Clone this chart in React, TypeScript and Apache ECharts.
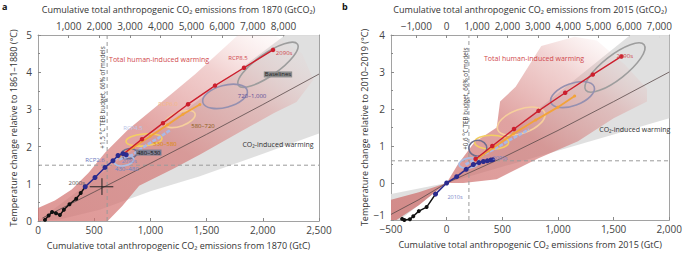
import React, { useEffect, useRef } from "react";
import * as echarts from "echarts";

const CO2_PER_C = 3.664;
const FONT = "'Open Sans', 'Noto Sans', sans-serif";

// ---------------- Panel a (relative to 1861–1880, emissions from 1870) ----------------
const aTopTicksGtCO2 = [1000, 2000, 3000, 4000, 5000, 6000, 7000, 8000];
const aGrayBand = [[0, 0], [2200, 5], [2500, 5], [2500, 2.35], [1440, 1.2], [1000, 0.8], [550, 0.3], [200, 0.05]];
const aPinkBand = [
  [0, 0], [0, 0.35], [150, 0.55], [300, 0.85], [450, 1.3], [600, 1.85], [800, 2.45], [1000, 2.95],
  [1200, 3.45], [1400, 3.95], [1600, 4.5], [1780, 5], [2100, 5], [2350, 4.5], [2450, 3.8],
  [2300, 3.2], [2100, 2.9], [1800, 2.4], [1450, 1.8], [1200, 1.4], [900, 0.95], [750, 0.4], [620, 0],
];
const aThinCO2 = [[40, 0.08], [500, 0.78], [1000, 1.55], [1500, 2.33], [2000, 3.13], [2500, 3.95]];
const aHistorical = [[62, 0.03], [95, 0.15], [125, 0.24], [160, 0.21], [195, 0.16], [230, 0.3], [280, 0.45], [340, 0.6], [380, 0.75], [420, 0.92]];
const aRcp26 = [[420, 0.92], [507, 1.17], [596, 1.44], [667, 1.62], [712, 1.76], [756, 1.81], [785, 1.78]];
const aRcp45 = [[720, 1.65], [840, 1.78], [970, 2.05], [1070, 2.23], [1180, 2.45]];
const aRcp60 = [[720, 1.72], [850, 1.98], [1000, 2.28], [1150, 2.58], [1290, 2.87], [1440, 3.13]];
const aRcp85 = [[760, 1.8], [925, 2.2], [1112, 2.63], [1335, 3.14], [1575, 3.64], [1833, 4.12], [2091, 4.6]];
const aBudgetX = 615;
const aBudgetT = 1.5;
const aCrossCenter = [569, 0.92];
const aCrossX = [460, 670];
const aCrossY = [0.7, 1.15];
const aEllipseCenters = [[2046, 4.2], [1664, 3.35], [1263, 2.74], [943, 2.18], [810, 1.81], [765, 1.62]];

// ---------------- Panel b (relative to 2010–2019, emissions from 2015) ----------------
const bTopTicksGtCO2 = [-1000, 0, 1000, 2000, 3000, 4000, 5000, 6000, 7000];
const bGrayBand = [
  [-500, -0.3], [0, 0], [1650, 4], [2000, 4], [2000, 1.75], [0, 0], [-420, -1], [-500, -1],
];
const bPinkBand = [
  [-500, -0.45], [-250, -0.25], [0, 0], [100, 0.5], [250, 1.1], [450, 1.5], [480, 2.2], [620, 2.6],
  [850, 3.7], [1150, 3.95], [1350, 3.85], [1600, 3.2], [1800, 2.55], [1800, 2.2], [1500, 1.75],
  [1180, 1.13], [825, 0.67], [450, 0.1], [150, 0], [0, 0], [-250, -0.6], [-450, -1], [-500, -1],
];
const bThinCO2 = [[-500, -0.85], [-250, -0.45], [0, 0], [500, 0.68], [1000, 1.42], [1500, 2.2], [2000, 3.0]];
const bHistorical = [[-400, -0.97], [-380, -1.0], [-330, -0.98], [-300, -0.9], [-250, -0.76], [-180, -0.65], [-100, -0.3]];
const bRcp26 = [[-100, -0.3], [0, 0], [90, 0.17], [175, 0.37], [240, 0.5], [290, 0.55], [330, 0.58], [365, 0.6], [395, 0.62], [415, 0.63]];
const bRcp45 = [[170, 0.5], [300, 0.72], [430, 0.92], [560, 1.15], [700, 1.38], [740, 1.45]];
const bRcp60 = [[260, 0.62], [420, 0.95], [600, 1.33], [800, 1.7], [1000, 2.05], [1150, 2.35]];
const bRcp85 = [[260, 0.65], [410, 1.0], [605, 1.46], [825, 1.95], [1065, 2.44], [1313, 2.93], [1570, 3.42]];
const bBudgetX = 200;
const bBudgetT = 0.6;
const bEllipseCenters = [[1512, 3.12], [1131, 2.39], [670, 1.67], [404, 1.1], [280, 0.94], [200, 0.54]];

// ellipse look (pixel radii, tilt in degrees)
const aEllipseLook = [
  { rx: 36, ry: 11, angle: 35, color: "#9d9d9d" },
  { rx: 23, ry: 11, angle: 15, color: "#9590b0" },
  { rx: 16, ry: 7, angle: 20, color: "#f6cf9c" },
  { rx: 18, ry: 6, angle: 5, color: "#f4cf62" },
  { rx: 8, ry: 5, angle: 10, color: "#6e6e8e" },
  { rx: 10, ry: 5, angle: 10, color: "#aabfe6" },
];
const bEllipseLook = [
  { rx: 37, ry: 12, angle: 38, color: "#9d9d9d" },
  { rx: 23, ry: 11, angle: 20, color: "#9590b0" },
  { rx: 25, ry: 12, angle: 20, color: "#f6cf9c" },
  { rx: 17, ry: 7, angle: 0, color: "#f4cf62" },
  { rx: 9, ry: 8, angle: 0, color: "#6e6e8e" },
  { rx: 10, ry: 5, angle: 10, color: "#aabfe6" },
];

// annotations: [x, y, text] in data units (text centre)
const aLabels = [
  [1077, 4.34, "Total human-induced warming"],
  [1779, 4.39, "RCP8.5"],
  [2190, 4.52, "2090s"],
  [2135, 3.94, "Baselines"],
  [1904, 3.35, "720–1,000"],
  [1157, 3.14, "RCP6.0"],
  [1468, 2.55, "580–720"],
  [1130, 2.07, "530–580"],
  [985, 1.84, "480–530"],
  [812, 1.6, "2090s "],
  [790, 1.4, "430–480"],
  [507, 1.65, "RCP2.6"],
  [845, 2.5, "RCP4.5"],
  [345, 1.01, "2000s"],
  [2135, 2.05, "CO₂-induced warming"],
];
const bLabels = [
  [785, 3.36, "Total human-induced warming"],
  [1600, 3.44, "2090s"],
  [1690, 1.45, "CO₂-induced warming"],
  [480, 0.67, "2090s "],
  [75, -0.38, "2010s"],
];
const labelLook: Record<string, any> = {
  "Total human-induced warming": { fill: "#d0474c", fontSize: 7 },
  "RCP8.5": { fill: "#d0474c", fontSize: 6 },
  "2090s": { fill: "#d0474c", fontSize: 6 },
  "2090s ": { fill: "#7a86c8", fontSize: 5.5 },
  "Baselines": { fill: "#222", fontSize: 6, backgroundColor: "#8d8d8d", padding: [0, 1] },
  "720–1,000": { fill: "#5b4b98", fontSize: 6 },
  "RCP6.0": { fill: "#f4b985", fontSize: 6 },
  "580–720": { fill: "#8a5a12", fontSize: 6 },
  "530–580": { fill: "#e08a00", fontSize: 6 },
  "480–530": { fill: "#111", fontSize: 6, backgroundColor: "#7e7e92", padding: [0, 1] },
  "430–480": { fill: "#5f86cc", fontSize: 6 },
  "RCP2.6": { fill: "#6a78c0", fontSize: 6 },
  "RCP4.5": { fill: "#b9c4e8", fontSize: 6 },
  "2000s": { fill: "#555", fontSize: 6 },
  "2010s": { fill: "#7a86c8", fontSize: 5.5 },
  "CO₂-induced warming": { fill: "#333", fontSize: 7 },
};

const fmt = (v: number) => {
  const r = Math.round(v);
  const s = Math.abs(r).toLocaleString("en-US");
  return r < 0 ? "−" + s : s;
};

const AX = "#8a8a8a";
const LBL = { color: "#444", fontSize: 10, fontFamily: FONT };
const NAME = { color: "#333", fontSize: 9, fontFamily: FONT };

function bottomAxis(grid: number, min: number, max: number, name: string) {
  return {
    type: "value", gridIndex: grid, position: "bottom", min, max, interval: 500,
    name, nameLocation: "middle", nameGap: 20, nameTextStyle: NAME,
    axisLine: { show: true, onZero: false, lineStyle: { color: AX, width: 0.8 } },
    axisTick: { show: true, inside: true, length: 3, lineStyle: { color: AX } },
    axisLabel: { ...LBL, margin: 4, formatter: fmt },
    splitLine: { show: false },
  };
}
function topAxis(grid: number, min: number, max: number, ticksCO2: number[], name: string) {
  const vals = ticksCO2.map((t) => t / CO2_PER_C);
  return {
    type: "value", gridIndex: grid, position: "top", min, max,
    name, nameLocation: "middle", nameGap: 21, nameTextStyle: NAME,
    axisLine: { show: true, onZero: false, lineStyle: { color: AX, width: 0.8 } },
    axisTick: { show: true, inside: true, length: 3, customValues: vals, lineStyle: { color: AX } },
    axisLabel: { ...LBL, margin: 4, customValues: vals, formatter: (v: number) => fmt(Math.round((v * CO2_PER_C) / 100) * 100) },
    splitLine: { show: false },
  };
}
function leftAxis(grid: number, min: number, max: number, name: string, gap: number, liftMin: boolean) {
  return {
    type: "value", gridIndex: grid, position: "left", min, max, interval: 1,
    name, nameLocation: "middle", nameGap: gap, nameTextStyle: NAME,
    axisLine: { show: true, onZero: false, lineStyle: { color: AX, width: 0.8 } },
    axisTick: { show: true, inside: true, length: 3, lineStyle: { color: AX } },
    minorTick: { show: true, splitNumber: 2, length: 2, lineStyle: { color: AX } },
    axisLabel: { ...LBL, margin: 6, formatter: fmt, ...(liftMin ? { verticalAlignMinLabel: "bottom" } : {}) },
    splitLine: { show: false },
  };
}
function rightAxis(grid: number, min: number, max: number) {
  return {
    type: "value", gridIndex: grid, position: "right", min, max,
    axisLine: { show: true, onZero: false, lineStyle: { color: AX, width: 0.8 } },
    axisTick: { show: false }, axisLabel: { show: false }, splitLine: { show: false },
  };
}

function polygonSeries(data: number[][], xi: number, yi: number, fill: any, z: number) {
  return {
    type: "custom", xAxisIndex: xi, yAxisIndex: yi, data, encode: { x: 0, y: 1 }, silent: true, z,
    renderItem: (params: any, api: any) => {
      if (params.dataIndex !== 0) return null;
      return { type: "polygon", shape: { points: data.map((p) => api.coord(p)) }, style: { fill } };
    },
  };
}
function lineSeries(data: number[][], xi: number, yi: number, color: string, width: number, symbolSize: number, z: number, dash?: any) {
  return {
    type: "line", xAxisIndex: xi, yAxisIndex: yi, data, z,
    symbol: symbolSize > 0 ? "circle" : "none", symbolSize, showSymbol: symbolSize > 0,
    lineStyle: { color, width, type: dash || "solid" }, itemStyle: { color },
    silent: true,
  };
}
function ellipseSeries(centers: number[][], look: any[], xi: number, yi: number) {
  return {
    type: "custom", xAxisIndex: xi, yAxisIndex: yi, z: 6, silent: true,
    data: centers.map((c, i) => [c[0], c[1], i]), encode: { x: 0, y: 1 },
    renderItem: (_p: any, api: any) => {
      const s = look[api.value(2)];
      const p = api.coord([api.value(0), api.value(1)]);
      return {
        type: "ellipse", x: p[0], y: p[1], rotation: (s.angle * Math.PI) / 180,
        shape: { cx: 0, cy: 0, rx: s.rx, ry: s.ry },
        style: { fill: "none", stroke: s.color, lineWidth: 1.6 },
      };
    },
  };
}
function labelSeries(labels: any[], xi: number, yi: number) {
  return {
    type: "custom", xAxisIndex: xi, yAxisIndex: yi, z: 9, silent: true,
    data: labels.map((l, i) => [l[0], l[1], i]), encode: { x: 0, y: 1 },
    renderItem: (_p: any, api: any) => {
      const l = labels[api.value(2)];
      const look = labelLook[l[2]] || {};
      const p = api.coord([l[0], l[1]]);
      return {
        type: "text", x: p[0], y: p[1],
        style: { text: String(l[2]).trim(), fontFamily: FONT, align: "center", verticalAlign: "middle", ...look },
      };
    },
  };
}
function verticalText(pos: number[], text: string, xi: number, yi: number) {
  return {
    type: "custom", xAxisIndex: xi, yAxisIndex: yi, z: 9, silent: true,
    data: [pos], encode: { x: 0, y: 1 },
    renderItem: (_p: any, api: any) => {
      const p = api.coord(pos);
      return {
        type: "text", x: p[0], y: p[1], rotation: Math.PI / 2,
        style: { text, fontFamily: FONT, fontSize: 6.3, fill: "#444", align: "center", verticalAlign: "middle" },
      };
    },
  };
}

const pinkA = new echarts.graphic.LinearGradient(0, 1, 1, 0, [
  { offset: 0, color: "rgba(210,112,110,0.72)" },
  { offset: 0.45, color: "rgba(212,118,116,0.66)" },
  { offset: 0.72, color: "rgba(222,142,140,0.42)" },
  { offset: 0.9, color: "rgba(236,185,183,0.12)" },
  { offset: 1, color: "rgba(240,200,200,0)" },
]);
const pinkB = new echarts.graphic.LinearGradient(0, 1, 1, 0, [
  { offset: 0, color: "rgba(205,105,103,0.72)" },
  { offset: 0.5, color: "rgba(208,115,113,0.66)" },
  { offset: 0.75, color: "rgba(220,145,143,0.4)" },
  { offset: 0.92, color: "rgba(236,188,186,0.06)" },
  { offset: 1, color: "rgba(240,200,200,0)" },
]);
const GRAY = "rgba(222,222,222,0.95)";

const RED = "#cc1f2d";
const ORANGE = "#f2a33a";
const LBLUE = "#a9b9e6";
const DBLUE = "#2b2b8e";

function panelSeries(xi: number, yi: number, d: any) {
  return [
    polygonSeries(d.gray, xi, yi, GRAY, 1),
    polygonSeries(d.pink, xi, yi, d.pinkFill, 2),
    lineSeries([[d.budgetX, d.yMin], [d.budgetX, d.yMax]], xi, yi, "#9a9a9a", 1, 0, 3, [4, 3]),
    lineSeries([[d.xMin, d.budgetT], [d.xMax, d.budgetT]], xi, yi, "#9a9a9a", 1, 0, 3, [4, 3]),
    lineSeries(d.thin, xi, yi, "#5a4a4a", 0.8, 0, 4),
    ellipseSeries(d.ellCenters, d.ellLook, xi, yi),
    lineSeries(d.rcp45, xi, yi, LBLUE, 2.6, 0, 7, [4, 1.5]),
    lineSeries(d.rcp60, xi, yi, ORANGE, 1.8, 3, 7),
    lineSeries(d.rcp85, xi, yi, RED, 1.4, 4.5, 8),
    lineSeries(d.hist, xi, yi, "#111", 1.5, 4, 8),
    lineSeries(d.rcp26, xi, yi, DBLUE, 1.5, 5, 8),
    labelSeries(d.labels, xi, yi),
    verticalText(d.vtPos, d.vtText, xi, yi),
  ];
}

export default function App() {
  const ref = useRef<HTMLDivElement>(null);
  useEffect(() => {
    if (!ref.current) return;
    const chart = echarts.init(ref.current, undefined, { renderer: "svg" });
    const series: any[] = [
      ...panelSeries(0, 0, {
        gray: aGrayBand, pink: aPinkBand, pinkFill: pinkA, budgetX: aBudgetX, budgetT: aBudgetT,
        xMin: 0, xMax: 2500, yMin: 0, yMax: 5, thin: aThinCO2, ellCenters: aEllipseCenters, ellLook: aEllipseLook,
        rcp45: aRcp45, rcp60: aRcp60, rcp85: aRcp85, hist: aHistorical, rcp26: aRcp26, labels: aLabels,
        vtPos: [578, 3.32], vtText: "+1.5 °C TEB budget, 66% of models",
      }),
      lineSeries([[aCrossX[0], aCrossCenter[1]], [aCrossX[1], aCrossCenter[1]]], 0, 0, "#222", 1, 0, 9),
      lineSeries([[aCrossCenter[0], aCrossY[0]], [aCrossCenter[0], aCrossY[1]]], 0, 0, "#222", 1, 0, 9),
      ...panelSeries(2, 2, {
        gray: bGrayBand, pink: bPinkBand, pinkFill: pinkB, budgetX: bBudgetX, budgetT: bBudgetT,
        xMin: -500, xMax: 2000, yMin: -1, yMax: 4, thin: bThinCO2, ellCenters: bEllipseCenters, ellLook: bEllipseLook,
        rcp45: bRcp45, rcp60: bRcp60, rcp85: bRcp85, hist: bHistorical, rcp26: bRcp26, labels: bLabels,
        vtPos: [165, 2.28], vtText: "+0.6 °C TEB budget, 66% of models",
      }),
    ];
    chart.setOption({
      animation: false,
      backgroundColor: "#fff",
      grid: [
        { left: 38, top: 33, width: 281, height: 188 },
        { left: 391, top: 33, width: 282, height: 187 },
      ],
      xAxis: [
        bottomAxis(0, 0, 2500, "Cumulative total anthropogenic CO₂ emissions from 1870 (GtC)"),
        topAxis(0, 0, 2500, aTopTicksGtCO2, "Cumulative total anthropogenic CO₂ emissions from 1870 (GtCO₂)"),
        bottomAxis(1, -500, 2000, "Cumulative total anthropogenic CO₂ emissions from 2015 (GtC)"),
        topAxis(1, -500, 2000, bTopTicksGtCO2, "Cumulative total anthropogenic CO₂ emissions from 2015 (GtCO₂)"),
      ],
      yAxis: [
        leftAxis(0, 0, 5, "Temperature change relative to 1861–1880 (°C)", 20, false),
        rightAxis(0, 0, 5),
        leftAxis(1, -1, 4, "Temperature change relative to 2010–2019 (°C)", 22, true),
        rightAxis(1, -1, 4),
      ],
      graphic: [
        { type: "text", left: 2, top: 2, style: { text: "a", fontSize: 9, fontWeight: "bold", fill: "#111", fontFamily: FONT } },
        { type: "text", left: 342, top: 2, style: { text: "b", fontSize: 9, fontWeight: "bold", fill: "#111", fontFamily: FONT } },
      ],
      series,
    });
    return () => chart.dispose();
  }, []);
  return <div ref={ref} style={{ position: "fixed", left: 0, top: 0, width: 685, height: 259 }} />;
}
